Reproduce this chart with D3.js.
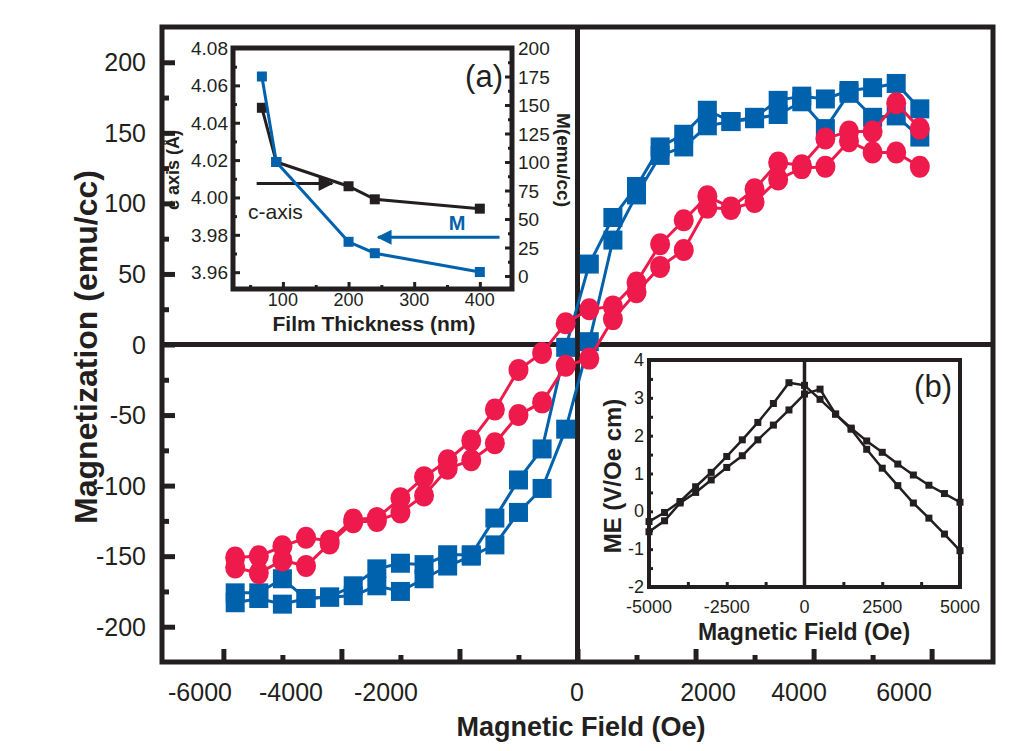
<!DOCTYPE html>
<html><head><meta charset="utf-8">
<script src="https://cdn.jsdelivr.net/npm/d3@7"></script>
<style>
body{margin:0;background:#fff}
text{font-family:"Liberation Sans",Arial,Helvetica,sans-serif;fill:#231f20}
</style>
</head><body>
<svg id="chart" width="1033" height="751"></svg>
<script>
// ---------- main chart data ----------
const fields = [-5800,-5400,-5000,-4600,-4200,-3800,-3400,-3000,-2600,-2200,-1800,-1400,-1000,-600,-200,
                200,600,1000,1400,1800,2200,2600,3000,3400,3800,4200,4600,5000,5400,5800];
const blueUpper = [-176,-176,-166,-180,-179,-171,-159,-155,-156,-149,-149,-123,-96,-74,-2,
                   57,90,112,140,149,166,158,161,173,176,174,180,182,185,167];
const blueLower = [-183,-180,-184,-180,-179,-178,-171,-175,-166,-157,-150,-142,-119,-102,-60,
                   2,74,106,134,140,155,158,160,163,172,153,178,161,162,147];
const redUpper  = [-151,-150,-143,-137,-139,-124,-123,-109,-94,-82,-68,-46,-18,-6,15,
                   25,27,44,71,88,105,97,110,129,127,146,151,151,171,153];
const redLower  = [-158,-162,-153,-157,-141,-126,-125,-119,-107,-88,-82,-70,-50,-41,-15,
                   -10,18,37,55,67,97,96,101,117,125,126,144,136,136,126];
const mainXTicks = [-6000,-4000,-2000,0,2000,4000,6000];
const mainYTicks = [-200,-150,-100,-50,0,50,100,150,200];

// ---------- inset (a) data ----------
const thickness = [68,90,200,240,400];
const cAxis     = [4.048,4.019,4.006,3.999,3.994];
const magM      = [175,100,30,20,3.5];
const thickTicks = [100,200,300,400];
const cTicks = [3.96,3.98,4.00,4.02,4.04,4.06,4.08];
const mTicks = [0,25,50,75,100,125,150,175,200];

// ---------- inset (b) data ----------
const meFields = [-5000,-4500,-4000,-3500,-3000,-2500,-2000,-1500,-1000,-500,0,
                  500,1000,1500,2000,2500,3000,3500,4000,4500,5000];
const meA = [-0.54,-0.25,0.22,0.5,0.83,1.16,1.47,1.89,2.28,2.68,3.10,
             3.23,2.57,2.17,1.64,1.14,0.68,0.22,-0.18,-0.6,-1.04];
const meB = [-0.27,-0.03,0.26,0.65,1.03,1.45,1.89,2.35,2.85,3.40,3.33,
             2.96,2.57,2.2,1.86,1.56,1.25,0.96,0.69,0.47,0.24];
const meXTicks = [-5000,-2500,0,2500,5000];
const meYTicks = [-2,-1,0,1,2,3,4];

const INK = "#231f20", BLUE = "#0061ad", RED = "#ee1a4b";
const svg = d3.select("#chart");

// ================= MAIN =================
const L = 162, R = 993, T = 27, B = 662;
const x = d3.scaleLinear().domain([-7040, 7040]).range([L, R]);
const y = d3.scaleLinear().domain([-225, 225]).range([B, T]);

function ticksAxis(g, axis, w) {
  g.call(axis);
  g.select(".domain").remove();
  g.selectAll(".tick line").attr("stroke", INK).attr("stroke-width", w);
  g.selectAll(".tick text").remove();
}
const minorX = [-5000,-3000,-1000,1000,3000,5000];
svg.append("g").attr("transform", `translate(0,${B})`)
  .call(g => ticksAxis(g, d3.axisBottom(x).tickValues(mainXTicks).tickSize(-13), 5));
svg.append("g").attr("transform", `translate(0,${B})`)
  .call(g => ticksAxis(g, d3.axisBottom(x).tickValues(minorX).tickSize(-7), 5));
const minorY = [-175,-125,-75,-25,25,75,125,175];
svg.append("g").attr("transform", `translate(${L},0)`)
  .call(g => ticksAxis(g, d3.axisLeft(y).tickValues(mainYTicks).tickSize(-13), 5));
svg.append("g").attr("transform", `translate(${L},0)`)
  .call(g => ticksAxis(g, d3.axisLeft(y).tickValues(minorY).tickSize(-7), 5));

svg.append("line").attr("x1", x(0)).attr("x2", x(0)).attr("y1", T).attr("y2", B)
  .attr("stroke", INK).attr("stroke-width", 5);
svg.append("line").attr("x1", L).attr("x2", R).attr("y1", y(0)).attr("y2", y(0))
  .attr("stroke", INK).attr("stroke-width", 5);
svg.append("rect").attr("x", L).attr("y", T).attr("width", R - L).attr("height", B - T)
  .attr("fill", "none").attr("stroke", INK).attr("stroke-width", 5);

// tick labels (placed as in the source figure, which are not evenly spaced)
const xLabelPos = d3.scaleLinear().domain(mainXTicks).range([200, 291, 386, 577, 708, 799, 904]);
svg.append("g").selectAll("text").data(mainXTicks).join("text")
  .attr("x", d => xLabelPos(d)).attr("y", 701).attr("text-anchor", "middle")
  .attr("font-size", 25).text(d => d);
svg.append("g").selectAll("text").data(mainYTicks).join("text")
  .attr("x", 146).attr("y", d => y(d) + 9).attr("text-anchor", "end")
  .attr("font-size", 25).text(d => d);
svg.append("text").attr("x", 581).attr("y", 736).attr("text-anchor", "middle")
  .attr("font-size", 27).attr("font-weight", "bold").text("Magnetic Field (Oe)");
svg.append("text").attr("transform", "translate(97,347) rotate(-90)").attr("text-anchor", "middle")
  .attr("font-size", 32).attr("font-weight", "bold").text("Magnetization (emu/cc)");

// data
const line = d3.line().x((d, i) => x(fields[i])).y(d => y(d));
function drawSeries(vals, color) {
  svg.append("path").datum(vals).attr("d", line).attr("fill", "none")
    .attr("stroke", color).attr("stroke-width", 3);
}
function drawMarkers(vals, color, shape) {
  const g = svg.append("g");
  if (shape === "square") {
    g.selectAll("rect").data(vals).join("rect")
      .attr("x", (d, i) => x(fields[i]) - 9.5).attr("y", d => y(d) - 9.5)
      .attr("width", 19).attr("height", 19).attr("fill", color);
  } else {
    g.selectAll("ellipse").data(vals).join("ellipse")
      .attr("cx", (d, i) => x(fields[i])).attr("cy", d => y(d))
      .attr("rx", 10).attr("ry", 11).attr("fill", color);
  }
}
drawSeries(blueUpper, BLUE); drawSeries(blueLower, BLUE);
drawMarkers(blueUpper, BLUE, "square"); drawMarkers(blueLower, BLUE, "square");
drawSeries(redUpper, RED); drawSeries(redLower, RED);
drawMarkers(redUpper, RED, "circle"); drawMarkers(redLower, RED, "circle");

// ================= INSET (a) =================
const aL = 233, aR = 512, aT = 48, aB = 289;
const xa = d3.scaleLinear().domain([24, 449]).range([aL, aR]);
const ya = d3.scaleLinear().domain([3.951, 4.08]).range([aB, aT]);
const ym = d3.scaleLinear().domain([-11.4, 200]).range([aB, aT]);
svg.append("rect").attr("x", aL).attr("y", aT).attr("width", aR - aL).attr("height", aB - aT)
  .attr("fill", "#fff");
svg.append("g").attr("transform", `translate(0,${aB})`)
  .call(g => ticksAxis(g, d3.axisBottom(xa).tickValues(thickTicks).tickSize(-7), 3));
svg.append("g").attr("transform", `translate(0,${aB})`)
  .call(g => ticksAxis(g, d3.axisBottom(xa).tickValues([50,150,250,350]).tickSize(-4), 3));
svg.append("g").attr("transform", `translate(${aL},0)`)
  .call(g => ticksAxis(g, d3.axisLeft(ya).tickValues(cTicks).tickSize(-7), 3));
svg.append("g").attr("transform", `translate(${aL},0)`)
  .call(g => ticksAxis(g, d3.axisLeft(ya).tickValues([3.97,3.99,4.01,4.03,4.05,4.07]).tickSize(-4), 3));
svg.append("g").attr("transform", `translate(${aR},0)`)
  .call(g => ticksAxis(g, d3.axisRight(ym).tickValues(mTicks).tickSize(-7), 3));
svg.append("g").attr("transform", `translate(${aR},0)`)
  .call(g => ticksAxis(g, d3.axisRight(ym).tickValues([12.5,37.5,62.5,87.5,112.5,137.5,162.5,187.5]).tickSize(-4), 3));
svg.append("rect").attr("x", aL).attr("y", aT).attr("width", aR - aL).attr("height", aB - aT)
  .attr("fill", "none").attr("stroke", INK).attr("stroke-width", 5);

svg.append("g").selectAll("text").data(thickTicks).join("text")
  .attr("x", d => xa(d)).attr("y", 306).attr("text-anchor", "middle").attr("font-size", 18).text(d => d);
svg.append("g").selectAll("text").data(cTicks).join("text")
  .attr("x", 228).attr("y", d => ya(d) + 7).attr("text-anchor", "end").attr("font-size", 19)
  .text(d => d.toFixed(2));
svg.append("g").selectAll("text").data(mTicks).join("text")
  .attr("x", 518).attr("y", d => ym(d) + 7).attr("text-anchor", "start").attr("font-size", 19).text(d => d);
svg.append("text").attr("x", 374).attr("y", 331).attr("text-anchor", "middle")
  .attr("font-size", 21).attr("font-weight", "bold").text("Film Thickness (nm)");
svg.append("text").attr("transform", "translate(179,170) rotate(-90)").attr("text-anchor", "middle")
  .attr("font-size", 18).attr("font-weight", "bold").text("c axis (Å)");
svg.append("text").attr("transform", "translate(557,160) rotate(90)").attr("text-anchor", "middle")
  .attr("font-size", 19).attr("font-weight", "bold").text("M(emu/cc)");
svg.append("text").attr("x", 503).attr("y", 87).attr("text-anchor", "end").attr("font-size", 31).text("(a)");
svg.append("text").attr("x", 248).attr("y", 219).attr("font-size", 21).text("c-axis");
svg.append("text").attr("x", 457).attr("y", 230).attr("text-anchor", "middle").attr("font-size", 20)
  .attr("font-weight", "bold").style("fill", BLUE).text("M");

const defs = svg.append("defs");
function arrowHead(id, color) {
  defs.append("marker").attr("id", id).attr("viewBox", "0 0 10 10").attr("refX", 9).attr("refY", 5)
    .attr("markerWidth", 6).attr("markerHeight", 5).attr("markerUnits", "strokeWidth").attr("orient", "auto")
    .append("path").attr("d", "M0,0L10,5L0,10z").attr("fill", color);
}
arrowHead("ahK", INK); arrowHead("ahB", BLUE);
svg.append("line").attr("x1", xa(60)).attr("x2", xa(175)).attr("y1", ya(4.0075)).attr("y2", ya(4.0075))
  .attr("stroke", INK).attr("stroke-width", 3).attr("marker-end", "url(#ahK)");
svg.append("line").attr("x1", xa(430)).attr("x2", xa(245)).attr("y1", ym(34)).attr("y2", ym(34))
  .attr("stroke", BLUE).attr("stroke-width", 3).attr("marker-end", "url(#ahB)");

const lineC = d3.line().x((d, i) => xa(thickness[i])).y(d => ya(d));
const lineM = d3.line().x((d, i) => xa(thickness[i])).y(d => ym(d));
svg.append("path").datum(cAxis).attr("d", lineC).attr("fill", "none").attr("stroke", INK).attr("stroke-width", 3);
svg.append("g").selectAll("rect").data(cAxis).join("rect")
  .attr("x", (d, i) => xa(thickness[i]) - 5).attr("y", d => ya(d) - 5).attr("width", 10).attr("height", 10).attr("fill", INK);
svg.append("path").datum(magM).attr("d", lineM).attr("fill", "none").attr("stroke", BLUE).attr("stroke-width", 3);
svg.append("g").selectAll("rect").data(magM).join("rect")
  .attr("x", (d, i) => xa(thickness[i]) - 5).attr("y", d => ym(d) - 5).attr("width", 10).attr("height", 10).attr("fill", BLUE);

// ================= INSET (b) =================
const bL = 649, bR = 960, bT = 360, bB = 587;
const xb = d3.scaleLinear().domain([-5000, 5000]).range([bL, bR]);
const yb = d3.scaleLinear().domain([-2, 4]).range([bB, bT]);
svg.append("rect").attr("x", bL).attr("y", bT).attr("width", bR - bL).attr("height", bB - bT).attr("fill", "#fff");
svg.append("g").attr("transform", `translate(0,${bB})`)
  .call(g => ticksAxis(g, d3.axisBottom(xb).tickValues([-3750,-2500,-1250,1250,2500,3750]).tickSize(-5), 3));
svg.append("g").attr("transform", `translate(${bL},0)`)
  .call(g => ticksAxis(g, d3.axisLeft(yb).tickValues([-1.5,-1,-0.5,0,0.5,1,1.5,2,2.5,3,3.5]).tickSize(-4), 3));
svg.append("line").attr("x1", xb(0)).attr("x2", xb(0)).attr("y1", bT).attr("y2", bB)
  .attr("stroke", INK).attr("stroke-width", 3.5);
const lineB = d3.line().x((d, i) => xb(meFields[i])).y(d => yb(d));
[meA, meB].forEach(s => {
  svg.append("path").datum(s).attr("d", lineB).attr("fill", "none").attr("stroke", INK).attr("stroke-width", 2.5);
  svg.append("g").selectAll("rect").data(s).join("rect")
    .attr("x", (d, i) => xb(meFields[i]) - 3.5).attr("y", d => yb(d) - 3.5).attr("width", 7).attr("height", 7).attr("fill", INK);
});
svg.append("rect").attr("x", bL).attr("y", bT).attr("width", bR - bL).attr("height", bB - bT)
  .attr("fill", "none").attr("stroke", INK).attr("stroke-width", 4);
svg.append("g").selectAll("text").data(meXTicks).join("text")
  .attr("x", d => xb(d)).attr("y", 613).attr("text-anchor", "middle").attr("font-size", 18).text(d => d);
svg.append("g").selectAll("text").data(meYTicks).join("text")
  .attr("x", 644).attr("y", d => yb(d) + 6).attr("text-anchor", "end").attr("font-size", 18).text(d => d);
svg.append("text").attr("x", 804).attr("y", 640).attr("text-anchor", "middle")
  .attr("font-size", 23).attr("font-weight", "bold").text("Magnetic Field (Oe)");
svg.append("text").attr("transform", "translate(621,476) rotate(-90)").attr("text-anchor", "middle")
  .attr("font-size", 24).attr("font-weight", "bold").text("ME (V/Oe cm)");
svg.append("text").attr("x", 952).attr("y", 397).attr("text-anchor", "end").attr("font-size", 31).text("(b)");
</script>
</body></html>
